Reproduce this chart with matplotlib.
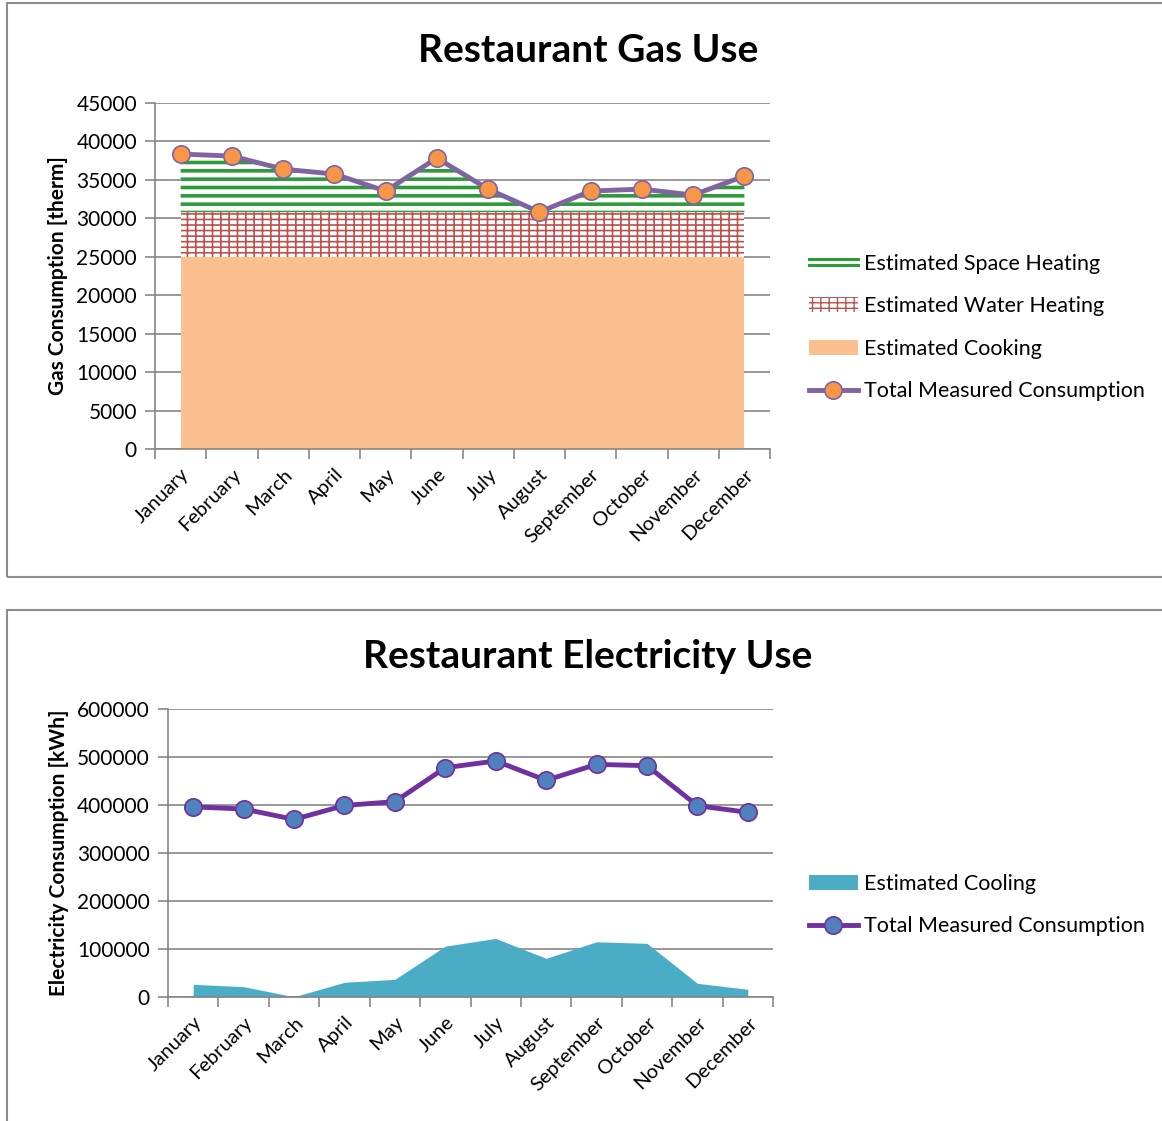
import matplotlib
matplotlib.use("Agg")
import matplotlib.pyplot as plt
import numpy as np
from matplotlib.patches import Rectangle
from matplotlib.lines import Line2D
from matplotlib.legend_handler import HandlerBase

plt.rcParams['font.family'] = ['Lato', 'DejaVu Sans']

months = ["January", "February", "March", "April", "May", "June", "July",
          "August", "September", "October", "November", "December"]

# gas (therm)
gas_total = [38360, 38100, 36400, 35760, 33550, 37840, 33800, 30820, 33550, 33800, 33030, 35500]
gas_cooking = [25000] * 12
gas_water = [5800] * 12
gas_space = [max(t - c - w, 0) for t, c, w in zip(gas_total, gas_cooking, gas_water)]

# electricity (kWh)
elec_total = [396000, 391700, 370000, 399000, 407000, 477700, 491700, 451400, 484700, 481900, 398600, 384700]
elec_cooling = [26400, 21500, 500, 30600, 36800, 106000, 122000, 80600, 115000, 111800, 28500, 16000]

grid_col = "#868686"
green = "#2E9B3A"
W, H = 1162, 1121
fig = plt.figure(figsize=(W / 100, H / 100), dpi=100)

# panel borders
for y0, y1 in [(3, 577), (610, 1130)]:
    fig.patches.append(Rectangle((7 / W, 1 - y1 / H), (W + 10 - 7) / W, (y1 - y0) / H,
                                 transform=fig.transFigure, fill=False,
                                 edgecolor="#8c8c8c", lw=1.5))


class DoubleLine(HandlerBase):
    # legend key drawn as two parallel green lines
    def create_artists(self, legend, orig, xd, yd, width, height, fontsize, trans):
        out = []
        for f in (0.3, 0.7):
            out.append(Line2D([-xd, -xd + width], [-yd + height * f] * 2,
                              color=green, lw=2.2, transform=trans))
        return out


def style_axes(ax, ymax, ystep):
    x = np.arange(12)
    ax.set_xlim(-0.5, 11.5)
    ax.set_ylim(0, ymax)
    ax.set_yticks(np.arange(0, ymax + 1, ystep))
    ax.yaxis.grid(True, color=grid_col, lw=1.2)
    ax.set_axisbelow(True)
    for s in ["top", "right"]:
        ax.spines[s].set_visible(False)
    for s in ["left", "bottom"]:
        ax.spines[s].set_color(grid_col)
        ax.spines[s].set_linewidth(1.2)
    ax.set_xticks(np.arange(-0.5, 12, 1))
    ax.set_xticklabels([])
    ax.set_xticks(x, minor=True)
    ax.set_xticklabels(months, minor=True, rotation=45, ha="right",
                       rotation_mode="anchor", fontsize=14.5)
    ax.tick_params(axis="x", which="major", length=7, color=grid_col, width=1.2)
    ax.tick_params(axis="x", which="minor", length=0, pad=12)
    ax.tick_params(axis="y", length=7, color=grid_col, width=1.2, labelsize=15, pad=6)
    return x


# ---- gas chart
ax1 = fig.add_axes([155 / W, 1 - 449 / H, 615 / W, 346 / H])
x = style_axes(ax1, 45000, 5000)
base = np.array(gas_cooking)
cook = ax1.fill_between(x, 0, base, color="#FAC090", lw=0, label="Estimated Cooking")
with plt.rc_context({"hatch.linewidth": 1.2}):
    water = ax1.fill_between(x, base, base + np.array(gas_water), facecolor="white",
                             edgecolor="#C0504D", hatch="++-", lw=0,
                             label="Estimated Water Heating")
base2 = base + np.array(gas_water)
with plt.rc_context({"hatch.linewidth": 2.6}):
    space = ax1.fill_between(x, base2, base2 + np.array(gas_space), facecolor="white",
                             edgecolor=green, hatch="--", lw=0,
                             label="Estimated Space Heating")
tot1, = ax1.plot(x, gas_total, color="#8064A2", lw=3.5, marker="o", ms=12.5,
                 mfc="#F79646", mec="#8064A2", mew=1.2,
                 label="Total Measured Consumption")
ax1.set_ylabel("Gas Consumption [therm]", fontsize=15, fontweight="bold", labelpad=6)
fig.text(588 / W, 1 - 50 / H, "Restaurant Gas Use", ha="center", va="center",
         fontsize=28, fontweight="bold")
fig.legend([space, water, cook, tot1],
           ["Estimated Space Heating", "Estimated Water Heating",
            "Estimated Cooking", "Total Measured Consumption"],
           handler_map={space: DoubleLine()},
           loc="upper left", bbox_to_anchor=(800 / W, 1 - 245 / H), frameon=False,
           fontsize=15.5, handlelength=2.3, handletextpad=0.25, labelspacing=1.05,
           borderaxespad=0)

# ---- electricity chart
ax2 = fig.add_axes([168 / W, 1 - 997 / H, 605 / W, 288 / H])
x = style_axes(ax2, 600000, 100000)
cool = ax2.fill_between(x, 0, elec_cooling, color="#4BACC6", lw=0, label="Estimated Cooling")
tot2, = ax2.plot(x, elec_total, color="#7030A0", lw=3.5, marker="o", ms=12.5,
                 mfc="#4F81BD", mec="#7030A0", mew=1.2,
                 label="Total Measured Consumption")
ax2.set_ylabel("Electricity Consumption [kWh]", fontsize=15, fontweight="bold", labelpad=6)
fig.text(588 / W, 1 - 657 / H, "Restaurant Electricity Use", ha="center", va="center",
         fontsize=28, fontweight="bold")
fig.legend([cool, tot2], ["Estimated Cooling", "Total Measured Consumption"],
           loc="upper left", bbox_to_anchor=(800 / W, 1 - 865 / H), frameon=False,
           fontsize=15.5, handlelength=2.3, handletextpad=0.25, labelspacing=1.05,
           borderaxespad=0)

fig.savefig("out.png", dpi=100)
